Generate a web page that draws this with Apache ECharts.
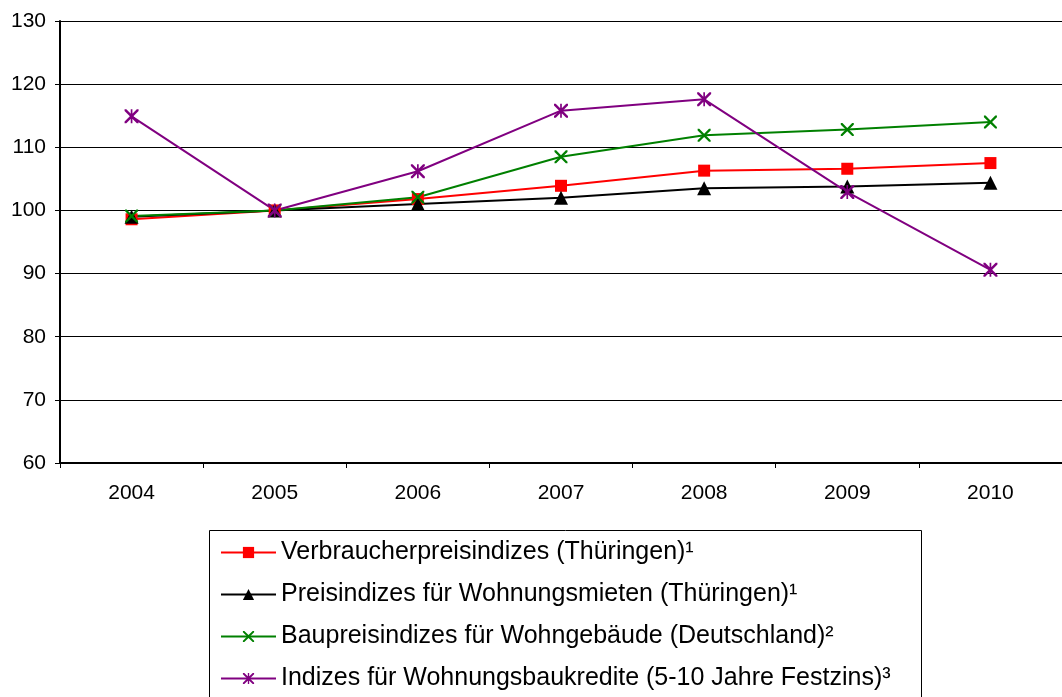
<!DOCTYPE html>
<html>
<head>
<meta charset="utf-8">
<script src="https://cdn.jsdelivr.net/npm/echarts@6/dist/echarts.min.js"></script>
<style>
html,body{margin:0;padding:0;background:#fff;}
#chart{width:1062px;height:697px;}
</style>
</head>
<body>
<div id="chart"></div>
<script>
const years = ['2004','2005','2006','2007','2008','2009','2010'];
const seriesNames = [
  'Verbraucherpreisindizes (Thüringen)¹',
  'Preisindizes für Wohnungsmieten (Thüringen)¹',
  'Baupreisindizes für Wohngebäude (Deutschland)²',
  'Indizes für Wohnungsbaukredite (5-10 Jahre Festzins)³'
];
const verbraucher = [98.6, 100.0, 101.8, 103.9, 106.3, 106.6, 107.5];
const mieten = [99.0, 100.0, 101.0, 102.0, 103.5, 103.8, 104.4];
const baupreis = [99.1, 100.0, 102.1, 108.5, 111.9, 112.8, 114.0];
const kredite = [114.9, 100.0, 106.2, 115.8, 117.6, 102.9, 90.6];
const yTicks = { min: 60, max: 130, interval: 10 };

const crossPath = 'path://M0,0 L2.5,0 L10,7.5 L17.5,0 L20,0 L20,2.5 L12.5,10 L20,17.5 L20,20 L17.5,20 L10,12.5 L2.5,20 L0,20 L0,17.5 L7.5,10 L0,2.5 Z';
const starPath = 'path://M0,0 L2.5,0 L10,7.5 L17.5,0 L20,0 L20,2.5 L12.5,10 L20,17.5 L20,20 L17.5,20 L10,12.5 L2.5,20 L0,20 L0,17.5 L7.5,10 L0,2.5 Z M8.8,0 L11.2,0 L11.2,20 L8.8,20 Z';

const font = '"Liberation Sans", Arial, sans-serif';

function mk(name, data, color, symbol, size) {
  return {
    name: name, type: 'line', data: data,
    symbol: symbol, symbolSize: size,
    lineStyle: { color: color, width: 2 },
    itemStyle: { color: color },
    animation: false
  };
}

const chart = echarts.init(document.getElementById('chart'));
chart.setOption({
  backgroundColor: '#fff',
  animation: false,
  grid: { left: 60, top: 21, right: -12, bottom: 234, containLabel: false },
  xAxis: {
    type: 'category', data: years, boundaryGap: true,
    axisLine: { lineStyle: { color: '#000', width: 2 } },
    axisTick: { show: true, length: 5, lineStyle: { color: '#000', width: 1 } },
    axisLabel: { color: '#000', fontSize: 21, fontFamily: font, margin: 20 },
    splitLine: { show: false }
  },
  yAxis: {
    type: 'value', min: yTicks.min, max: yTicks.max, interval: yTicks.interval,
    axisLine: { show: true, lineStyle: { color: '#000', width: 2 } },
    axisTick: { show: true, length: 5, lineStyle: { color: '#000', width: 1 } },
    axisLabel: { color: '#000', fontSize: 21, fontFamily: font, margin: 14 },
    splitLine: { show: true, lineStyle: { color: '#000', width: 1 } }
  },
  legend: {
    orient: 'vertical', left: 215, top: 535, height: 300,
    itemWidth: 55, itemHeight: 14, itemGap: 17,
    textStyle: { color: '#000', fontSize: 25, fontFamily: font, lineHeight: 25 },
    data: seriesNames
  },
  graphic: [{
    type: 'rect', shape: { x: 209.5, y: 530.5, width: 712, height: 200 },
    style: { fill: 'none', stroke: '#000', lineWidth: 1 }, z: 100, silent: true
  }],
  series: [
    mk(seriesNames[0], verbraucher, '#ff0000', 'rect', 12),
    mk(seriesNames[1], mieten, '#000000', 'triangle', 14),
    mk(seriesNames[2], baupreis, '#008000', crossPath, 13),
    mk(seriesNames[3], kredite, '#800080', starPath, 14)
  ]
});
</script>
</body>
</html>
